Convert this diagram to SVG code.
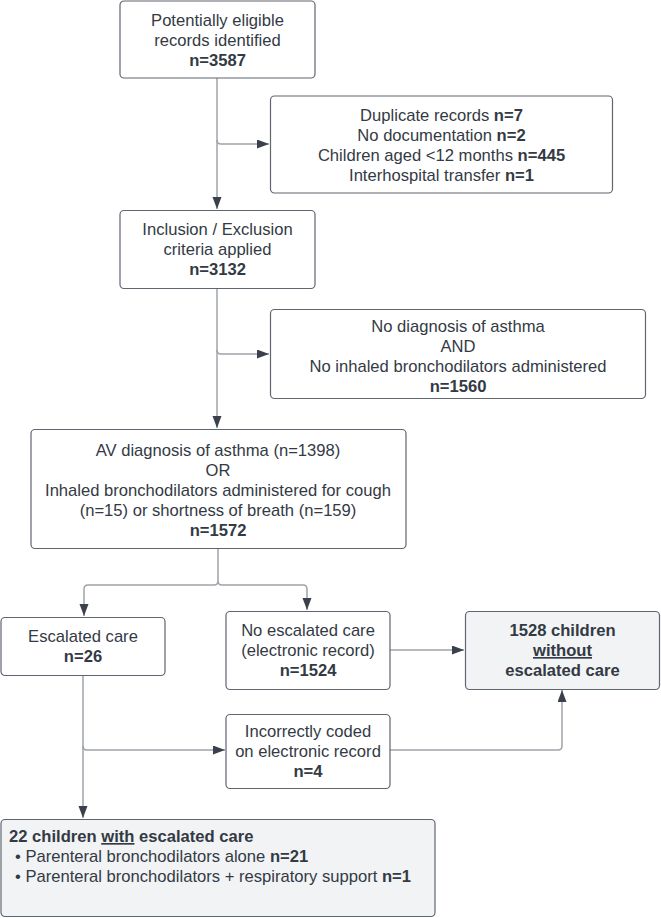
<svg xmlns="http://www.w3.org/2000/svg" width="661" height="918" viewBox="0 0 661 918">
<style>
.box{fill:#ffffff;stroke:#5f6670;stroke-width:1.2}
.gbox{fill:#f2f3f5;stroke:#5f6670;stroke-width:1.2}
.t{font-family:"Liberation Sans",Arial,sans-serif;font-size:16.6px;fill:#333a44;text-anchor:middle}
.l{text-anchor:start}
.b{font-weight:bold}
.u{text-decoration:underline}
.c{fill:none;stroke:#9fa3a8;stroke-width:1.5}
</style>
<defs>
<marker id="ah" markerUnits="userSpaceOnUse" markerWidth="13" markerHeight="10" refX="12" refY="4.5" orient="auto">
<path d="M0,0 L12,4.5 L0,9 z" fill="#3a414a"/>
</marker>
</defs>
<rect width="661" height="918" fill="#ffffff"/>
<g id="connectors">
<path class="c" d="M217,78 V209" marker-end="url(#ah)"/>
<path class="c" d="M217,140 Q217,144 221,144 H269" marker-end="url(#ah)"/>
<path class="c" d="M217,288 V428" marker-end="url(#ah)"/>
<path class="c" d="M217,350 Q217,354 221,354 H269" marker-end="url(#ah)"/>
<path class="c" d="M218,548 V581 Q218,585 214,585 H88 Q84,585 84,589 V616" marker-end="url(#ah)"/>
<path class="c" d="M218,581 Q218,585 222,585 H303 Q307,585 307,589 V610" marker-end="url(#ah)"/>
<path class="c" d="M390,650 H464" marker-end="url(#ah)"/>
<path class="c" d="M83,675 V818" marker-end="url(#ah)"/>
<path class="c" d="M83,746 Q83,750 87,750 H225" marker-end="url(#ah)"/>
<path class="c" d="M390,750 H558 Q562,750 562,746 V690" marker-end="url(#ah)"/>
</g>
<g id="n1">
<rect class="box" x="120" y="1" width="195" height="77" rx="4"/>
<text class="t" x="217.5" y="26">Potentially eligible</text>
<text class="t" x="217.5" y="46">records identified</text>
<text class="t b" x="217.5" y="66">n=3587</text>
</g>
<g id="n2">
<rect class="box" x="270.5" y="96" width="342" height="97" rx="4"/>
<text class="t" x="441.5" y="121">Duplicate records <tspan class="b">n=7</tspan></text>
<text class="t" x="441.5" y="141">No documentation <tspan class="b">n=2</tspan></text>
<text class="t" x="441.5" y="161">Children aged &lt;12 months <tspan class="b">n=445</tspan></text>
<text class="t" x="441.5" y="181">Interhospital transfer <tspan class="b">n=1</tspan></text>
</g>
<g id="n3">
<rect class="box" x="120" y="210.5" width="195" height="78" rx="4"/>
<text class="t" x="217.5" y="235">Inclusion / Exclusion</text>
<text class="t" x="217.5" y="255">criteria applied</text>
<text class="t b" x="217.5" y="275">n=3132</text>
</g>
<g id="n4">
<rect class="box" x="270.5" y="309.5" width="375" height="89" rx="4"/>
<text class="t" x="458" y="332">No diagnosis of asthma</text>
<text class="t" x="458" y="352">AND</text>
<text class="t" x="458" y="372">No inhaled bronchodilators administered</text>
<text class="t b" x="458" y="392">n=1560</text>
</g>
<g id="n5">
<rect class="box" x="31" y="429.5" width="375" height="119" rx="4"/>
<text class="t" x="218" y="455.5">AV diagnosis of asthma (n=1398)</text>
<text class="t" x="218" y="475.5">OR</text>
<text class="t" x="218" y="495.5">Inhaled bronchodilators administered for cough</text>
<text class="t" x="218" y="515.5">(n=15) or shortness of breath (n=159)</text>
<text class="t b" x="218" y="535.5">n=1572</text>
</g>
<g id="n6">
<rect class="box" x="1" y="617.5" width="164" height="58" rx="4"/>
<text class="t" x="83" y="642">Escalated care</text>
<text class="t b" x="83" y="662">n=26</text>
</g>
<g id="n7">
<rect class="box" x="226" y="611.5" width="164" height="78" rx="4"/>
<text class="t" x="308" y="636">No escalated care</text>
<text class="t" x="308" y="656">(electronic record)</text>
<text class="t b" x="308" y="676">n=1524</text>
</g>
<g id="n8">
<rect class="gbox" x="465.5" y="611.5" width="194" height="78" rx="4"/>
<text class="t b" x="562.5" y="636">1528 children</text>
<text class="t b u" x="562.5" y="656">without</text>
<text class="t b" x="562.5" y="676">escalated care</text>
</g>
<g id="n9">
<rect class="box" x="226" y="714.5" width="164" height="74" rx="4"/>
<text class="t" x="308" y="737">Incorrectly coded</text>
<text class="t" x="308" y="757">on electronic record</text>
<text class="t b" x="308" y="777">n=4</text>
</g>
<g id="n10">
<rect class="gbox" x="1" y="819.5" width="434" height="97" rx="4"/>
<text class="t l b" x="9" y="842">22 children <tspan class="u">with</tspan> escalated care</text>
<text class="t l" x="15" y="862">• Parenteral bronchodilators alone <tspan class="b">n=21</tspan></text>
<text class="t l" x="15" y="882">• Parenteral bronchodilators + respiratory support <tspan class="b">n=1</tspan></text>
</g>
</svg>
